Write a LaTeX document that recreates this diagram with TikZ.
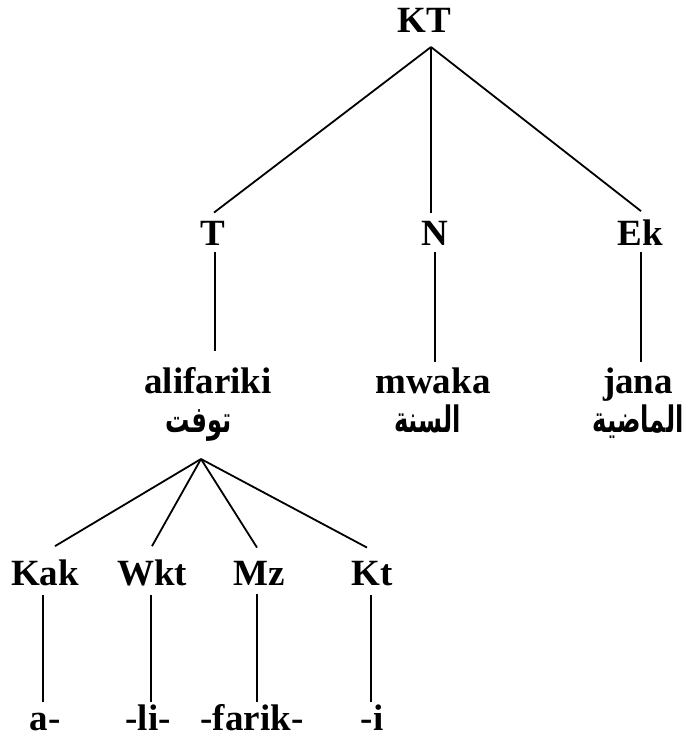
\documentclass[tikz,border=0pt]{standalone}
\usepackage{fontspec}
\setmainfont{Liberation Serif}
\newfontfamily\arabicfont[Script=Arabic]{DejaVu Sans}
\TeXXeTstate=1
\usetikzlibrary{calc}

\newcommand{\glossbox}[1]{\scalebox{0.9}[1.35]{\beginR #1\endR}}

\tikzset{
  lbl/.style={font=\fontsize{37}{40}\selectfont\bfseries, inner sep=0pt, anchor=base},
  arlbl/.style={font=\arabicfont\fontsize{27}{30}\selectfont\bfseries, inner sep=0pt, anchor=base},
  branch/.style={line width=1.8pt, line cap=butt},
}

\begin{document}
\begin{tikzpicture}[x=1pt, y=-1pt]
  \useasboundingbox (0,0) rectangle (688,743);

  % root
  \node[lbl] (KT) at (424,33) {KT};
  \coordinate (ktj) at (431,47);

  % first level
  \node[lbl] (T)  at (213,245) {T};
  \node[lbl] (N)  at (435,245) {N};
  \node[lbl] (Ek) at (640,245) {Ek};

  % words
  \node[lbl] (alif)  at (208,393) {alifariki};
  \node[lbl] (mwaka) at (433,393) {mwaka};
  \node[lbl] (jana)  at (638,393) {jana};

  % glosses
  \node[arlbl] (tuf) at (198.5,432) {\glossbox{توفت}};
  \node[arlbl] (san) at (427.5,432) {\glossbox{السنة}};
  \node[arlbl] (mad) at (638,432) {\glossbox{الماضية}};
  \coordinate (tufj) at (201,459);

  % morpheme slots
  \node[lbl] (Kak) at (45,585)  {Kak};
  \node[lbl] (Wkt) at (152,585) {Wkt};
  \node[lbl] (Mz)  at (259,585) {Mz};
  \node[lbl] (Kt)  at (372,585) {Kt};

  % morphemes
  \node[lbl] (ma) at (45,730)  {a-};
  \node[lbl] (ml) at (148,730) {-li-};
  \node[lbl] (mf) at (252,730) {-farik-};
  \node[lbl] (mi) at (372,730) {-i};

  % upper branches
  \draw[branch] (ktj) -- ($(T.north)+(1,-8)$);
  \draw[branch] (ktj) -- ($(ktj |- N.north)+(0,-8)$);
  \draw[branch] (ktj) -- ($(Ek.north)+(1,-8)$);

  % level one to words
  \draw[branch] ($(T.south)+(2,7)$)  -- ($(T.south |- alif.north)+(2,-16)$);
  \draw[branch] ($(N.south)+(0,7)$)  -- ($(N.south |- mwaka.north)+(0,-5)$);
  \draw[branch] ($(Ek.south)+(1,7)$) -- ($(Ek.south |- jana.north)+(1,-5)$);

  % word structure
  \draw[branch] (tufj) -- ($(Kak.north)+(10,-13)$);
  \draw[branch] (tufj) -- ($(Wkt.north)+(0,-13)$);
  \draw[branch] (tufj) -- ($(Mz.north)+(-2,-13)$);
  \draw[branch] (tufj) -- ($(Kt.north)+(-5,-13)$);

  % slots to morphemes
  \draw[branch] ($(Kak.south)+(-2,9)$) -- ($(Kak.south |- ma.base)+(-2,-28)$);
  \draw[branch] ($(Wkt.south)+(-1,9)$) -- ($(Wkt.south |- ml.base)+(-1,-28)$);
  \draw[branch] ($(Mz.south)+(-2,9)$)  -- ($(Mz.south |- mf.base)+(-2,-28)$);
  \draw[branch] ($(Kt.south)+(-1,9)$)  -- ($(Kt.south |- mi.base)+(-1,-28)$);
\end{tikzpicture}
\end{document}
